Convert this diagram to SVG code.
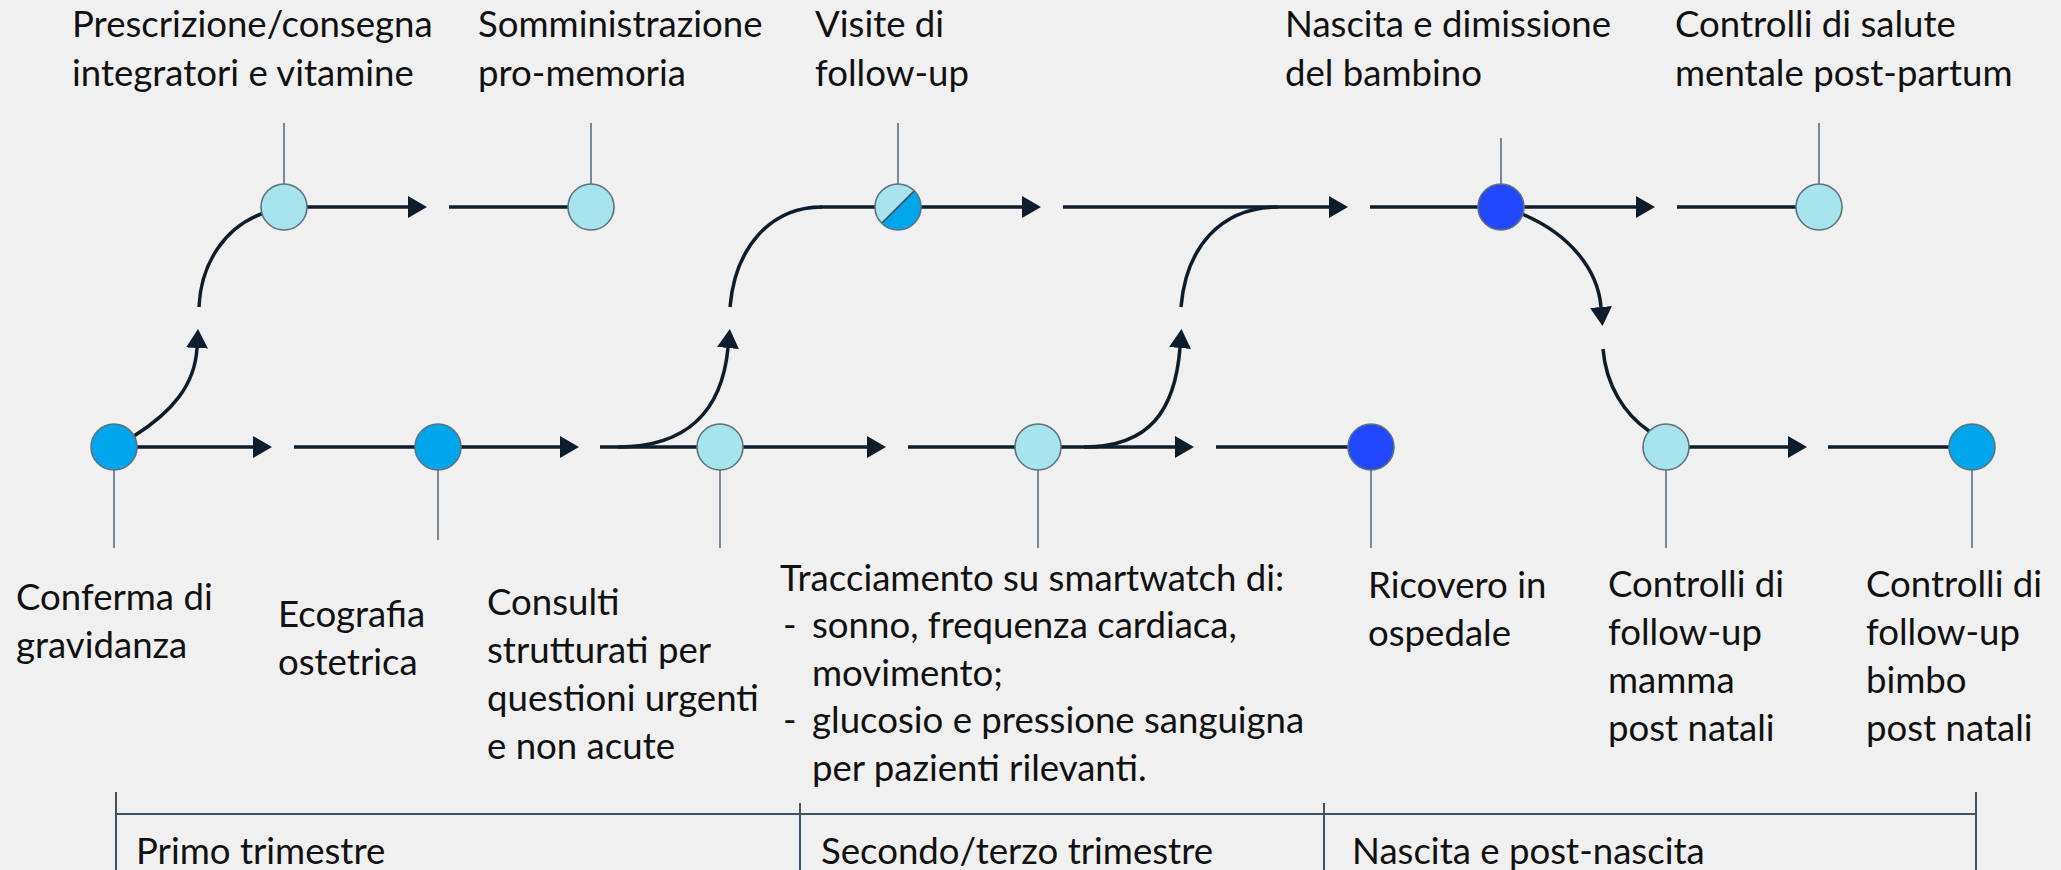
<svg xmlns="http://www.w3.org/2000/svg" width="2061" height="870" viewBox="0 0 2061 870">
<style>
.t{font-family:Lato,"Liberation Sans",sans-serif;font-size:36.6px;fill:#111}
.c{fill:none;stroke:#0E1D2B;stroke-width:3.5}
.stem{stroke:#5E6E7B;stroke-width:1.6}
.n{stroke:#5E7380;stroke-width:1.6}
.lt{fill:#A8E4EE}
.bb{fill:#00A6EC}
.db{fill:#2147FF}
.ph{stroke:#3E5262;stroke-width:2;fill:none}
</style>
<defs>
<marker id="ah" markerUnits="userSpaceOnUse" markerWidth="20" markerHeight="22" refX="0" refY="11" orient="auto" viewBox="0 0 20 22">
<path d="M0,0 L19,11 L0,22 Z" fill="#0E1D2B"/>
</marker>
</defs>
<rect width="2061" height="870" fill="#F0F0F0"/>
<g id="connectors">
<path class="c" d="M114,447 H253" marker-end="url(#ah)"/>
<path class="c" d="M294,447 H438"/>
<path class="c" d="M438,447 H560" marker-end="url(#ah)"/>
<path class="c" d="M600,447 H720"/>
<path class="c" d="M720,447 H867" marker-end="url(#ah)"/>
<path class="c" d="M908,447 H1038"/>
<path class="c" d="M1038,447 H1175" marker-end="url(#ah)"/>
<path class="c" d="M1216,447 H1371"/>
<path class="c" d="M1665,447 H1788" marker-end="url(#ah)"/>
<path class="c" d="M1828,447 H1972"/>
<path class="c" d="M284,207 H408" marker-end="url(#ah)"/>
<path class="c" d="M449,207 H591"/>
<path class="c" d="M820,207 H898"/>
<path class="c" d="M898,207 H1022" marker-end="url(#ah)"/>
<path class="c" d="M1063,207 H1329" marker-end="url(#ah)"/>
<path class="c" d="M1370,207 H1501"/>
<path class="c" d="M1501,207 H1636" marker-end="url(#ah)"/>
<path class="c" d="M1677,207 H1819"/>
<path class="c" d="M134,436 C172,412 195,385 197,348" marker-end="url(#ah)"/>
<path class="c" d="M199,307 C201,262 226,226 264,213"/>
<path class="c" d="M618,447 C688,447 722,410 728,348" marker-end="url(#ah)"/>
<path class="c" d="M730,307 C735,248 770,207 822,207"/>
<path class="c" d="M1084,447 C1150,447 1175,410 1180,348" marker-end="url(#ah)"/>
<path class="c" d="M1181,307 C1186,248 1220,207 1278,207"/>
<path class="c" d="M1522,214 C1570,234 1598,270 1601,307" marker-end="url(#ah)"/>
<path class="c" d="M1603,349 C1606,385 1624,414 1649,431"/>
</g>
<g id="n-conferma">
<line class="stem" x1="114" y1="470" x2="114" y2="548"/>
<circle class="n bb" cx="114" cy="447" r="23"/>
<text class="t" x="16" y="610">Conferma di</text>
<text class="t" x="16" y="658">gravidanza</text>
</g>
<g id="n-ecografia">
<line class="stem" x1="438" y1="470" x2="438" y2="540"/>
<circle class="n bb" cx="438" cy="447" r="23"/>
<text class="t" x="278" y="627">Ecografia</text>
<text class="t" x="278" y="675">ostetrica</text>
</g>
<g id="n-consulti">
<line class="stem" x1="720" y1="470" x2="720" y2="548"/>
<circle class="n lt" cx="720" cy="447" r="23"/>
<text class="t" x="487" y="615">Consulti</text>
<text class="t" x="487" y="663">strutturati per</text>
<text class="t" x="487" y="711">questioni urgenti</text>
<text class="t" x="487" y="759">e non acute</text>
</g>
<g id="n-tracciamento">
<line class="stem" x1="1038" y1="470" x2="1038" y2="548"/>
<circle class="n lt" cx="1038" cy="447" r="23"/>
<text class="t" x="780" y="591">Tracciamento su smartwatch di:</text>
<text class="t" x="783" y="638">-</text>
<text class="t" x="812" y="638">sonno, frequenza cardiaca,</text>
<text class="t" x="812" y="686">movimento;</text>
<text class="t" x="783" y="733">-</text>
<text class="t" x="812" y="733">glucosio e pressione sanguigna</text>
<text class="t" x="812" y="781">per pazienti rilevanti.</text>
</g>
<g id="n-ricovero">
<line class="stem" x1="1371" y1="470" x2="1371" y2="548"/>
<circle class="n db" cx="1371" cy="447" r="23"/>
<text class="t" x="1368" y="598">Ricovero in</text>
<text class="t" x="1368" y="646">ospedale</text>
</g>
<g id="n-mamma">
<line class="stem" x1="1666" y1="470" x2="1666" y2="548"/>
<circle class="n lt" cx="1666" cy="447" r="23"/>
<text class="t" x="1608" y="597">Controlli di</text>
<text class="t" x="1608" y="645">follow-up</text>
<text class="t" x="1608" y="693">mamma</text>
<text class="t" x="1608" y="741">post natali</text>
</g>
<g id="n-bimbo">
<line class="stem" x1="1972" y1="470" x2="1972" y2="548"/>
<circle class="n bb" cx="1972" cy="447" r="23"/>
<text class="t" x="1866" y="597">Controlli di</text>
<text class="t" x="1866" y="645">follow-up</text>
<text class="t" x="1866" y="693">bimbo</text>
<text class="t" x="1866" y="741">post natali</text>
</g>
<g id="n-prescrizione">
<line class="stem" x1="284" y1="123" x2="284" y2="184"/>
<circle class="n lt" cx="284" cy="207" r="23"/>
<text class="t" x="72" y="37">Prescrizione/consegna</text>
<text class="t" x="72" y="86">integratori e vitamine</text>
</g>
<g id="n-somministrazione">
<line class="stem" x1="591" y1="123" x2="591" y2="184"/>
<circle class="n lt" cx="591" cy="207" r="23"/>
<text class="t" x="478" y="37">Somministrazione</text>
<text class="t" x="478" y="86">pro-memoria</text>
</g>
<g id="n-visite">
<line class="stem" x1="898" y1="123" x2="898" y2="184"/>
<path class="lt" d="M914.3,190.7 A23,23 0 0 0 881.7,223.3 Z"/>
<path class="bb" d="M881.7,223.3 A23,23 0 0 0 914.3,190.7 Z"/>
<line x1="914.3" y1="190.7" x2="881.7" y2="223.3" stroke="#3A4A56" stroke-width="1.6"/>
<circle cx="898" cy="207" r="23" fill="none" class="n"/>
<text class="t" x="815" y="37">Visite di</text>
<text class="t" x="815" y="86">follow-up</text>
</g>
<g id="n-nascita">
<line class="stem" x1="1501" y1="138" x2="1501" y2="184"/>
<circle class="n db" cx="1501" cy="207" r="23"/>
<text class="t" x="1285" y="37">Nascita e dimissione</text>
<text class="t" x="1285" y="86">del bambino</text>
</g>
<g id="n-salute">
<line class="stem" x1="1819" y1="123" x2="1819" y2="184"/>
<circle class="n lt" cx="1819" cy="207" r="23"/>
<text class="t" x="1675" y="37">Controlli di salute</text>
<text class="t" x="1675" y="86">mentale post-partum</text>
</g>
<g id="phases">
<line class="ph" x1="116" y1="814" x2="1976" y2="814"/>
<line class="ph" x1="116" y1="792" x2="116" y2="870"/>
<line class="ph" x1="800" y1="803" x2="800" y2="870"/>
<line class="ph" x1="1324" y1="803" x2="1324" y2="870"/>
<line class="ph" x1="1976" y1="792" x2="1976" y2="870"/>
<text class="t" x="136" y="864">Primo trimestre</text>
<text class="t" x="821" y="864">Secondo/terzo trimestre</text>
<text class="t" x="1352" y="864">Nascita e post-nascita</text>
</g>
</svg>
